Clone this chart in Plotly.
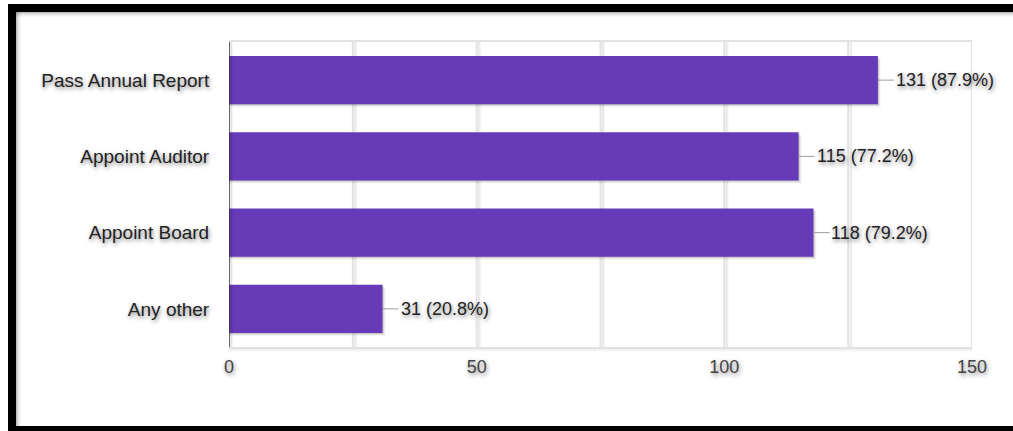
import plotly.graph_objects as go

# Survey responses: agenda items for the annual meeting
categories = ["Pass Annual Report", "Appoint Auditor", "Appoint Board", "Any other"]
counts = [131, 115, 118, 31]
percents = [87.9, 77.2, 79.2, 20.8]
x_ticks = [0, 50, 100, 150]
x_grid = [25, 50, 75, 100, 125, 150]

W, H = 1013, 431
ML, MR, MT, MB = 229, 41, 42, 84
PW, PH = W - ML - MR, H - MT - MB

BAR = "#673ab7"
FONT = "Liberation Sans, Arial, sans-serif"
SHADOW = "1px 2px 4px rgba(0,0,0,0.5)"


def px_x(px):
    return (px - ML) / PW


def px_y(py):
    return (H - MB - py) / PH


fig = go.Figure(
    go.Bar(
        x=counts,
        y=categories,
        orientation="h",
        marker=dict(color=BAR, line=dict(width=0)),
        width=0.63,
        hoverinfo="skip",
    )
)

shapes = []

# soft shadows beside the vertical gridlines
for g in x_grid:
    for off, op in [(2, 0.10), (3, 0.07), (4, 0.04)]:
        shapes.append(dict(
            type="line", xref="x", yref="paper", xsizemode="pixel", xanchor=g,
            x0=off, x1=off, y0=0, y1=1,
            line=dict(color=f"rgba(0,0,0,{op})", width=1), layer="below",
        ))

# shadow under the bottom baseline
for off, op in [(2, 0.08), (3, 0.05), (4, 0.03)]:
    shapes.append(dict(
        type="line", xref="paper", yref="paper", ysizemode="pixel", yanchor=0,
        x0=0, x1=1, y0=-off, y1=-off,
        line=dict(color=f"rgba(0,0,0,{op})", width=1), layer="below",
    ))

# soft shadows beneath and right of each bar
for c, v in zip(categories, counts):
    for off, op in [(1, 0.12), (2, 0.07), (3, 0.04)]:
        shapes.append(dict(
            type="rect", xref="x", yref="y", xsizemode="pixel", ysizemode="pixel",
            xanchor=v, yanchor=c, x0=-PW, x1=off, y0=-24 - off, y1=24 - off,
            line=dict(width=0), fillcolor=f"rgba(0,0,0,{op})", layer="below",
        ))

# dark zero line with its shadow
for off, op in [(2, 0.15), (3, 0.08)]:
    shapes.append(dict(
        type="line", xref="x", yref="paper", xsizemode="pixel", xanchor=0,
        x0=off, x1=off, y0=0, y1=1,
        line=dict(color=f"rgba(0,0,0,{op})", width=1),
    ))
shapes.append(dict(
    type="line", xref="x", yref="paper", x0=0, x1=0, y0=0, y1=1,
    line=dict(color="#333333", width=1.5),
))

# black frame (left, top, bottom) with inner shadow
frame = [
    (8, 16, 4, 426),     # left
    (8, W, 4, 12),       # top
    (8, W, 426, H),      # bottom
]
for x0, x1, y0, y1 in frame:
    shapes.append(dict(
        type="rect", xref="paper", yref="paper",
        x0=px_x(x0), x1=px_x(x1), y0=px_y(y1), y1=px_y(y0),
        line=dict(width=0), fillcolor="#000000",
    ))
for i, op in enumerate([0.25, 0.16, 0.10, 0.06, 0.03]):
    shapes.append(dict(
        type="rect", xref="paper", yref="paper",
        x0=px_x(16 + i), x1=px_x(17 + i), y0=px_y(426), y1=px_y(12),
        line=dict(width=0), fillcolor=f"rgba(0,0,0,{op})",
    ))
    shapes.append(dict(
        type="rect", xref="paper", yref="paper",
        x0=px_x(16), x1=px_x(W), y0=px_y(13 + i), y1=px_y(12 + i),
        line=dict(width=0), fillcolor=f"rgba(0,0,0,{op})",
    ))

# value labels with short leader lines
annotations = []
for c, v, p in zip(categories, counts, percents):
    annotations.append(dict(
        x=v, y=c, xref="x", yref="y",
        text=f"{v} ({p:.1f}%)",
        showarrow=True, arrowhead=0, arrowwidth=1, arrowcolor="#9e9e9e",
        ax=16, ay=0, xanchor="left", yanchor="middle",
        standoff=0, startstandoff=0,
        font=dict(family=FONT, size=18, color="#222222", shadow=SHADOW),
    ))

fig.update_layout(
    width=W, height=H,
    margin=dict(l=ML, r=MR, t=MT, b=MB, pad=0),
    paper_bgcolor="white", plot_bgcolor="white",
    showlegend=False,
    bargap=0.37,
    shapes=shapes,
    annotations=annotations,
    xaxis=dict(
        range=[0, 150],
        tickvals=x_ticks,
        ticktext=[str(t) for t in x_ticks],
        showgrid=False,
        zeroline=False,
        showline=True, mirror=True, linecolor="#e2e2e2", linewidth=2,
        ticks="outside", ticklen=2, tickcolor="rgba(0,0,0,0)",
        tickfont=dict(family=FONT, size=18, color="#444444", shadow=SHADOW),
        fixedrange=True,
    ),
    yaxis=dict(
        autorange="reversed",
        showgrid=False, zeroline=False, showline=False,
        ticks="outside", ticklen=15, tickcolor="rgba(0,0,0,0)",
        tickfont=dict(family=FONT, size=19, color="#222222", shadow=SHADOW),
        fixedrange=True,
    ),
)

# vertical gridlines every 25
for g in x_grid:
    fig.add_shape(
        type="line", xref="x", yref="paper", x0=g, x1=g, y0=0, y1=1,
        line=dict(color="#e2e2e2", width=2), layer="below",
    )

fig.write_html("out.html", config={"displayModeBar": False})
